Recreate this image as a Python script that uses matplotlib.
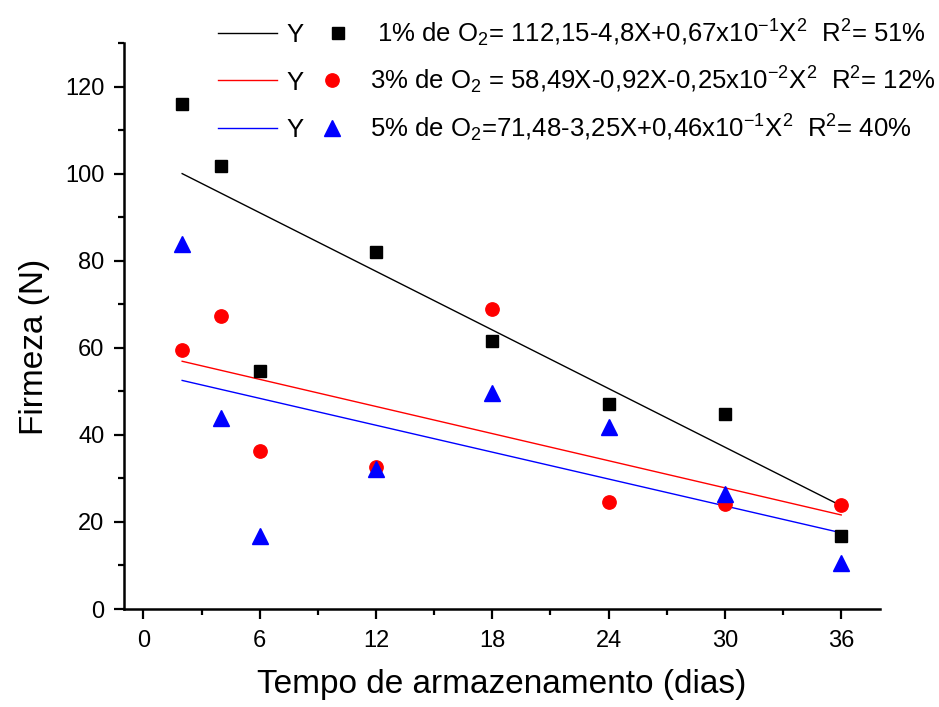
import matplotlib
matplotlib.use("Agg")
import matplotlib.pyplot as plt
from matplotlib.lines import Line2D
from matplotlib.ticker import MultipleLocator

plt.rcParams['font.family'] = ['Liberation Sans', 'DejaVu Sans']
plt.rcParams['mathtext.default'] = 'regular'

# dias de armazenamento
dias = [2, 4, 6, 12, 18, 24, 30, 36]

# firmeza (N) para cada concentracao de O2
o2_1 = [116, 101.8, 54.6, 82, 61.5, 47, 44.7, 16.8]
o2_3 = [59.6, 67.2, 36.2, 32.7, 68.9, 24.6, 24.2, 24]
o2_5 = [83.8, 43.8, 16.8, 32.2, 49.5, 41.7, 26.5, 10.6]

# retas ajustadas (extremos)
fit_x = [2, 36]
fit_1 = [100, 23.7]
fit_3 = [56.9, 21.6]
fit_5 = [52.5, 17.5]

labels = [
    r' 1% de O$_2$= 112,15-4,8X+0,67x10$^{-1}$X$^2$  R$^2$= 51%',
    r'3% de O$_2$ = 58,49X-0,92X-0,25x10$^{-2}$X$^2$  R$^2$= 12%',
    r'5% de O$_2$=71,48-3,25X+0,46x10$^{-1}$X$^2$  R$^2$= 40%',
]
cores = ['black', 'red', 'blue']
marcadores = [('s', 8.4), ('o', 9.6), ('^', 11)]

W, H = 939, 707
fig = plt.figure(figsize=(W / 100, H / 100), dpi=100)
ax = fig.add_axes([124 / W, 1 - 609 / H, (880 - 124) / W, (609 - 43) / H])

ax.plot(fit_x, fit_1, color='black', lw=1)
ax.plot(fit_x, fit_3, color='red', lw=1)
ax.plot(fit_x, fit_5, color='blue', lw=1)

for ys, c, (m, ms) in zip([o2_1, o2_3, o2_5], cores, marcadores):
    ax.plot(dias, ys, m, color=c, ms=ms, ls='none')

ax.set_xlim(-1, 38)
ax.set_ylim(0, 130)
ax.set_xticks([0, 6, 12, 18, 24, 30, 36])
ax.set_yticks([0, 20, 40, 60, 80, 100, 120])
ax.xaxis.set_minor_locator(MultipleLocator(3))
ax.yaxis.set_minor_locator(MultipleLocator(10))

for s in ['top', 'right']:
    ax.spines[s].set_visible(False)
for s in ['left', 'bottom']:
    ax.spines[s].set_linewidth(1.8)

ax.tick_params(which='major', length=7, width=1.6, labelsize=17, direction='out')
ax.tick_params(which='minor', length=4, width=1.6, direction='out')
ax.tick_params(axis='x', which='major', pad=8)
ax.tick_params(axis='y', which='major', pad=7)

ax.set_xlabel('Tempo de armazenamento (dias)', fontsize=24, labelpad=12)
ax.set_ylabel('Firmeza (N)', fontsize=24)
ax.yaxis.set_label_coords(-0.098, 0.463)

# legenda montada a mao: linha, "Y", marcador, equacao
base = [42, 89.5, 137]
for i in range(3):
    yb = 1 - base[i] / H
    yc = 1 - (base[i] - 9.5) / H
    fig.add_artist(Line2D([218 / W, 277 / W], [yc, yc], color=cores[i], lw=1,
                          transform=fig.transFigure))
    fig.text(286 / W, yb, 'Y', fontsize=18.5, va='baseline', ha='left')
    mx = 338 if i == 0 else 332
    m, ms = marcadores[i]
    fig.add_artist(Line2D([mx / W], [yc], marker=m, color=cores[i], ms=ms, ls='none',
                          transform=fig.transFigure))
    fig.text(370 / W, yb, labels[i], fontsize=18.5, va='baseline', ha='left')

fig.savefig('out.png', dpi=100)
